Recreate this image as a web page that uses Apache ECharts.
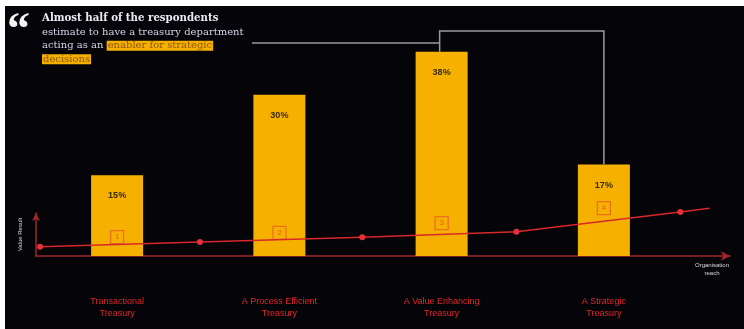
<!DOCTYPE html>
<html><head><meta charset="utf-8">
<script src="https://cdn.jsdelivr.net/npm/echarts@6/dist/echarts.min.js"></script>
<style>html,body{margin:0;padding:0;background:#fff}#c{width:744px;height:329px}</style>
</head><body><div id="c"></div>
<script>
const categories = ['Transactional\nTreasury', 'A Process Efficient\nTreasury', 'A Value Enhancing\nTreasury', 'A Strategic\nTreasury'];
const shares = [15, 30, 38, 17];
const stageNumbers = ['1', '2', '3', '4'];
const stageMarkerLevels = [3.5, 4.3, 6.1, 8.9];
const valueCurveX = [0.025, 1.01, 2.01, 2.96, 3.97, 4.15];
const valueCurveY = [1.7, 2.6, 3.5, 4.5, 8.2, 8.9];
const curveDots = [true, true, true, true, true, false];

const chart = echarts.init(document.getElementById('c'));
const RED = '#d8282a';
const AXIS = '#a3262a';
const option = {
  backgroundColor: '#050409',
  animation: false,
  title: [
    { text: '\u201C', left: 7, top: 9, padding: 0, textStyle: { color: '#f2f2f2', fontSize: 46, fontWeight: 'bold', fontFamily: 'Liberation Serif' } },
    {
      left: 42, top: 12, padding: 0,
      text: '{b|Almost half of the respondents}\n{n|estimate to have a treasury department}\n{n|acting as an }{h|enabler for strategic}\n{h|decisions}',
      textStyle: {
        rich: {
          b: { color: '#ecebf4', fontSize: 10.2, fontWeight: 'bold', fontFamily: 'DejaVu Serif', lineHeight: 13.5 },
          n: { color: '#d6d4e4', fontSize: 10, fontWeight: 'normal', fontFamily: 'DejaVu Serif', lineHeight: 13.5 },
          h: { color: '#8a5800', fontSize: 10, fontWeight: 'normal', fontFamily: 'DejaVu Serif', lineHeight: 13.5, backgroundColor: '#f5b000', padding: [0, 1, 0, 1] }
        }
      }
    }
  ],
  grid: [
    { left: 36, right: 59, top: 14, bottom: 73 },
    { left: 36, right: 14, top: 213, bottom: 73 }
  ],
  xAxis: [
    { type: 'category', gridIndex: 0, data: categories, axisLine: { show: false }, axisTick: { show: false },
      axisLabel: { color: '#e0282a', fontSize: 9, lineHeight: 12, margin: 40, fontFamily: 'Liberation Sans' } },
    { type: 'value', gridIndex: 1, min: 0, max: 4.276, splitLine: { show: false }, axisTick: { show: false }, axisLabel: { show: false },
      axisLine: { show: true, symbol: ['none', 'arrow'], symbolSize: [7, 9], lineStyle: { color: AXIS, width: 1.5 } },
      name: 'Organisation\nreach', nameLocation: 'end', nameGap: -18,
      nameTextStyle: { color: '#d8d8e0', fontSize: 6, lineHeight: 8, align: 'center', verticalAlign: 'top', padding: [5, 0, 0, 0] } }
  ],
  yAxis: [
    { type: 'value', gridIndex: 0, min: 0, max: 45, show: false },
    { type: 'value', gridIndex: 1, min: 0, max: 8, splitLine: { show: false }, axisTick: { show: false }, axisLabel: { show: false },
      axisLine: { show: true, symbol: ['none', 'arrow'], symbolSize: [6, 8], lineStyle: { color: AXIS, width: 1.5 } },
      name: 'Value Result', nameLocation: 'middle', nameRotate: 90, nameGap: 13,
      nameTextStyle: { color: '#d8d8e0', fontSize: 6 } }
  ],
  series: [
    { type: 'bar', xAxisIndex: 0, yAxisIndex: 0, data: shares, barWidth: 52,
      itemStyle: { color: '#f6b100' },
      label: { show: true, position: 'insideTop', distance: 16, formatter: '{c}%', color: '#3a2a05', fontSize: 9, fontWeight: 'bold', fontFamily: 'Liberation Sans' } },
    { type: 'scatter', xAxisIndex: 0, yAxisIndex: 0, data: stageMarkerLevels, symbol: 'rect', symbolSize: 13,
      itemStyle: { color: 'rgba(0,0,0,0)', borderColor: '#e8602a', borderWidth: 1.3 },
      label: { show: true, position: 'inside', formatter: p => stageNumbers[p.dataIndex], color: '#e04a2a', fontSize: 8 }, z: 5 },
    { type: 'line', xAxisIndex: 1, yAxisIndex: 1, clip: false, z: 6,
      data: valueCurveX.map((x, i) => ({ value: [x, valueCurveY[i]], symbol: curveDots[i] ? 'circle' : 'none' })),
      symbolSize: 6, lineStyle: { color: RED, width: 1.5 }, itemStyle: { color: '#e8303a' } }
  ]
};
chart.setOption(option);
const p3 = chart.convertToPixel({ seriesIndex: 0 }, [2, shares[2]]);
const p4 = chart.convertToPixel({ seriesIndex: 0 }, [3, shares[3]]);
const gy = 31, ty = 43;
chart.setOption({
  graphic: [
    { type: 'rect', shape: { x: 0, y: 0, width: 744, height: 6 }, style: { fill: '#fff' }, z: 100 },
    { type: 'rect', shape: { x: 0, y: 0, width: 5, height: 329 }, style: { fill: '#fff' }, z: 100 },
    { type: 'polyline', shape: { points: [[252, ty], [p3[0] - 2, ty]] }, style: { stroke: '#9a9a9e', lineWidth: 1.5, fill: null }, z: 50 },
    { type: 'polyline', shape: { points: [[p3[0] - 2, p3[1]], [p3[0] - 2, gy], [p4[0], gy], [p4[0], p4[1]]] }, style: { stroke: '#9a9a9e', lineWidth: 1.5, fill: null }, z: 50 }
  ]
});
</script></body></html>
